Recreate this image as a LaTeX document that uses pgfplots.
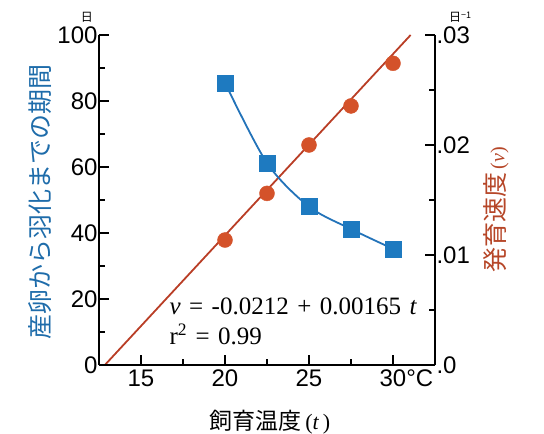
\documentclass[border=0pt]{standalone}
\usepackage{fontspec}
\usepackage{pgfplots}
\pgfplotsset{compat=1.18}
\setmainfont{Liberation Sans}
\newfontfamily\jp{Noto Sans CJK JP}
\newfontfamily\tms{Liberation Serif}
\definecolor{bsq}{RGB}{30,122,192}
\definecolor{bline}{RGB}{35,115,185}
\definecolor{circ}{RGB}{212,82,42}
\definecolor{rline}{RGB}{185,62,38}
\definecolor{blab}{RGB}{30,108,170}
\definecolor{rlab}{RGB}{182,70,40}
\begin{document}
\begin{tikzpicture}
\useasboundingbox (-99pt,-69pt) rectangle (445pt,365pt);
\begin{axis}[at={(0pt,0pt)}, anchor=south west, scale only axis, width=336pt, height=330pt,
  xmin=12.5, xmax=32.5, ymin=0, ymax=0.03,
  axis y line*=right, axis x line=none,
  axis line style={line width=1.8pt, black},
  ytick={0,0.01,0.02,0.03}, yticklabels={.0,.01,.02,.03},
  minor ytick={0.005,0.015,0.025},
  major tick length=10pt, minor tick length=6pt,
  tick style={line width=1.6pt, black},
  yticklabel style={anchor=west, xshift=-2pt, font=\fontsize{24}{24}\selectfont},
  scaled y ticks=false,
]
\addplot[rline, line width=1.8pt] coordinates {(12.85,0) (31.05,0.0300)};
\addplot[only marks, mark=*, mark size=7.5pt, mark options={fill=circ, draw=circ}] coordinates {
(20,0.01136) (22.5,0.0156) (25,0.0200) (27.5,0.02355) (30,0.02743)};
\end{axis}
\begin{axis}[at={(0pt,0pt)}, anchor=south west, scale only axis, width=336pt, height=330pt,
  xmin=12.5, xmax=32.5, ymin=0, ymax=100,
  axis x line*=bottom, axis y line*=left,
  axis line style={line width=1.8pt, black},
  xtick={15,20,25,30}, xticklabels={15,20,25,30\rlap{°C}},
  minor xtick={17.5,22.5,27.5},
  ytick={0,20,40,60,80,100}, minor ytick={10,30,50,70,90},
  major tick length=10pt, minor tick length=6pt,
  tick style={line width=1.6pt, black},
  yticklabel style={anchor=east, xshift=2pt},
  xticklabel style={yshift=-1pt},
  ticklabel style={font=\fontsize{24}{24}\selectfont},
  /pgf/number format/assume math mode=true,
]
\addplot[bline, line width=1.8pt, smooth] coordinates {
(20,85.5) (22.5,61.2) (25,48.0) (27.5,41.2) (30,35.2)};
\addplot[only marks, mark=square*, mark size=8pt, mark options={fill=bsq, draw=bsq}] coordinates {
(20,85.5) (22.5,61.2) (25,48.0) (27.5,41.2) (30,35.2)};
\end{axis}
% tick marks (axis decoration)
\foreach \y in {0,66,132,198,264,330} \draw[line width=1.6pt] (0pt,\y pt) -- ++(10pt,0pt);
\foreach \y in {33,99,165,231,297} \draw[line width=1.6pt] (0pt,\y pt) -- ++(6pt,0pt);
\foreach \x in {42,126,210,294} \draw[line width=1.6pt] (\x pt,0pt) -- ++(0pt,10pt);
\foreach \x in {84,168,252} \draw[line width=1.6pt] (\x pt,0pt) -- ++(0pt,6pt);
\foreach \y in {0,110,220,330} \draw[line width=1.6pt] (336pt,\y pt) -- ++(-10pt,0pt);
\foreach \y in {55,165,275} \draw[line width=1.6pt] (336pt,\y pt) -- ++(-6pt,0pt);
\node[font=\tms\fontsize{25}{25}\selectfont, anchor=base west] at (67pt,50pt) {\spaceskip=0.34em \textit{v} = -0.0212 + 0.00165 \textit{t}};
\node[font=\tms\fontsize{25}{25}\selectfont, anchor=base west] at (67pt,20pt) {\spaceskip=0.34em r\textsuperscript{2} = 0.99};
\node[font=\jp\fontsize{12}{12}\selectfont, anchor=center] at (-12pt,348pt) {日};
\node[font=\jp\fontsize{12}{12}\selectfont, anchor=center] at (361pt,348pt) {日\raisebox{0.5ex}{\fontsize{9}{9}\selectfont −1}};
\node[font=\jp\fontsize{25}{25}\selectfont, blab, rotate=90, anchor=center] at (-59pt,163pt) {産卵から羽化までの期間};
\node[font=\jp\fontsize{25}{25}\selectfont, rlab, rotate=90, anchor=center] at (397pt,155pt) {発育速度{\tms\fontsize{20}{20}\selectfont\,(\textit{v})}};
\node[font=\jp\fontsize{23}{23}\selectfont, anchor=center] at (171pt,-57pt) {飼育温度{\tms\fontsize{22}{22}\selectfont\,(\textit{t}\,)}};
\end{tikzpicture}
\end{document}
